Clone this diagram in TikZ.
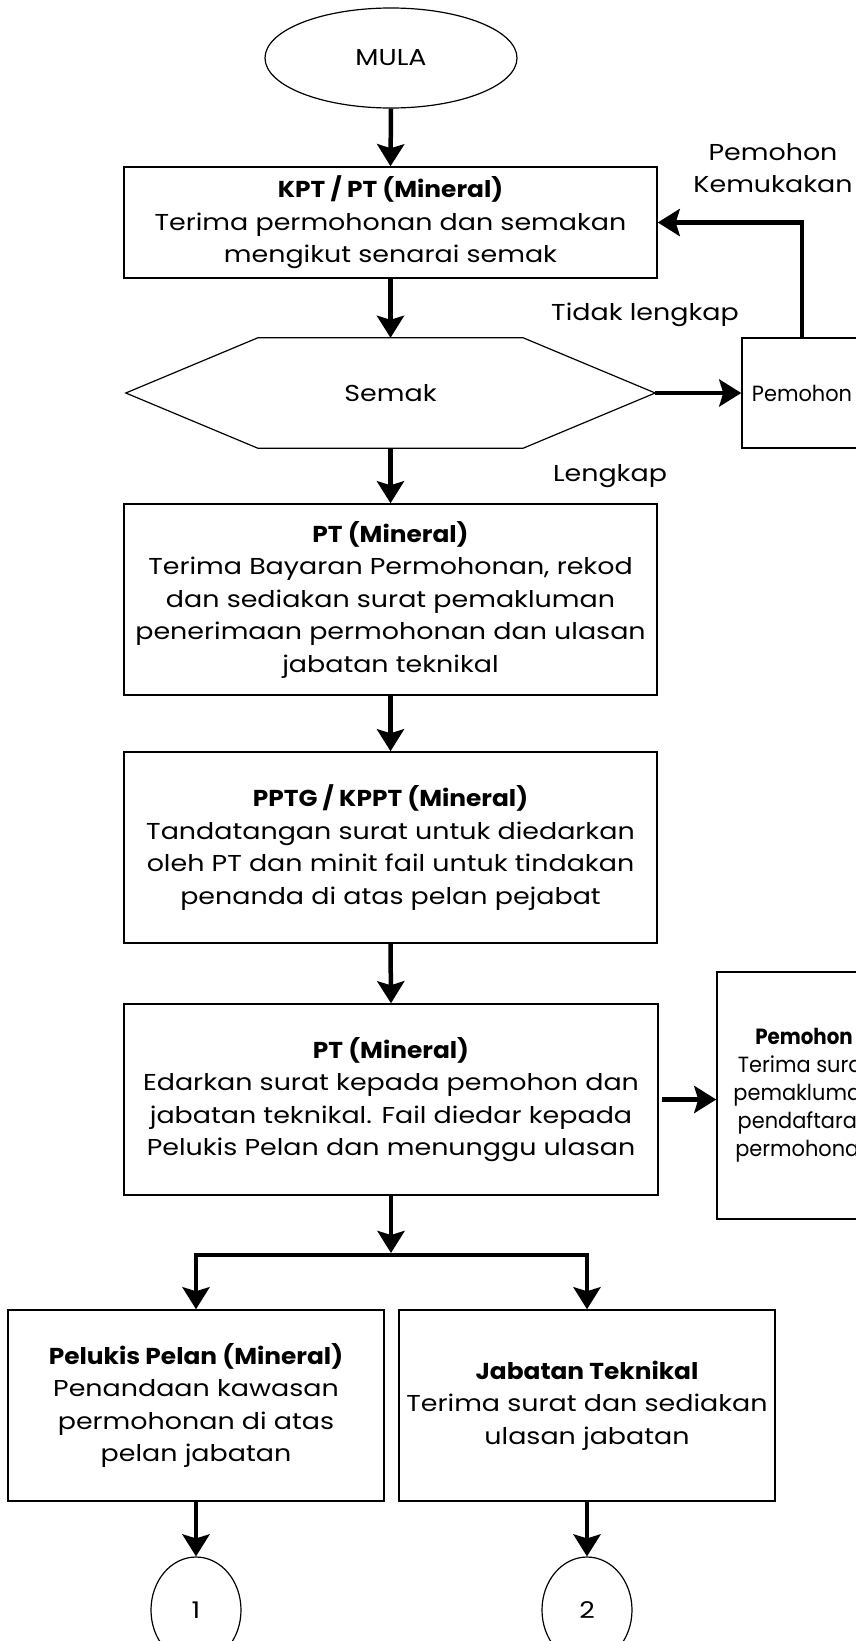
\documentclass[tikz,border=0pt]{standalone}
\usepackage{fontspec}
\setmainfont{Poppins}[FakeStretch=1.17, BoldFeatures={FakeStretch=1.08}]
\newfontfamily\condfam{Poppins}[FakeStretch=0.95, BoldFeatures={FakeStretch=0.9}]
\usetikzlibrary{arrows.meta,shapes.geometric,calc}
\newcommand\mainfs{\fontsize{23}{32.5}\selectfont}
\newcommand\condfs{\condfam\fontsize{22}{28}\selectfont}
\begin{document}
\begin{tikzpicture}[x=1pt,y=-1pt,
  box/.style={draw, line width=1.5pt, inner sep=0pt, align=center, font=\mainfs},
  term/.style={ellipse, draw, line width=1.2pt, inner sep=0pt, font=\mainfs},
  lbl/.style={inner sep=0pt, align=center, font=\mainfs},
  arr/.style={line width=4.5pt, -{Stealth[length=22pt,width=27pt,inset=4pt]}},
  plain/.style={line width=4.5pt}
]
\useasboundingbox (0,0) rectangle (856,1641);

\node[term, minimum width=252pt, minimum height=100pt] (mula) at (391,58) {MULA};

\node[box, minimum width=533pt, minimum height=111pt] (b1) at (390.5,222.5)
  {\textbf{KPT / PT (Mineral)}\\Terima permohonan dan semakan\\mengikut senarai semak};

\node[lbl, minimum width=529pt, minimum height=110pt] (semak) at (390.5,393) {Semak};
\draw[line width=1.2pt] (semak.west) -- ($(semak.north west)+(132,0)$) -- ($(semak.north east)+(-132,0)$)
  -- (semak.east) -- ($(semak.south east)+(-132,0)$) -- ($(semak.south west)+(132,0)$) -- cycle;

\node[box, font=\condfs, minimum width=120pt, minimum height=110pt] (p1) at (802,393) {Pemohon};

\node[lbl] (kemuk) at (773,168) {Pemohon\\Kemukakan};
\node[lbl] (tidak) at (645,315) {Tidak lengkap};
\node[lbl] (lengkap) at (610,476) {Lengkap};

\node[box, minimum width=533pt, minimum height=191pt] (b2) at (390.5,599.5)
  {\textbf{PT (Mineral)}\\Terima Bayaran Permohonan, rekod\\dan sediakan surat pemakluman\\penerimaan permohonan dan ulasan\\jabatan teknikal};

\node[box, minimum width=533pt, minimum height=191pt] (b3) at (390.5,847.5)
  {\textbf{PPTG / KPPT (Mineral)}\\Tandatangan surat untuk diedarkan\\oleh PT dan minit fail untuk tindakan\\penanda di atas pelan pejabat};

\node[box, minimum width=534pt, minimum height=191pt] (b4) at (391,1099.5)
  {\textbf{PT (Mineral)}\\Edarkan surat kepada pemohon dan\\jabatan teknikal. Fail diedar kepada\\Pelukis Pelan dan menunggu ulasan};

\node[box, font=\condfs, minimum width=174pt, minimum height=247pt] (p2) at (804,1095.5)
  {\textbf{Pemohon}\\Terima surat\\pemakluman\\pendaftaran\\permohonan};

\node[box, minimum width=376pt, minimum height=191pt] (b5) at (196,1405.5)
  {\textbf{Pelukis Pelan (Mineral)}\\Penandaan kawasan\\permohonan di atas\\pelan jabatan};

\node[box, minimum width=376pt, minimum height=191pt] (b6) at (587,1405.5)
  {\textbf{Jabatan Teknikal}\\Terima surat dan sediakan\\ulasan jabatan};

\node[term, minimum width=90pt, minimum height=106pt] (c1) at (196,1610) {1};
\node[term, minimum width=90pt, minimum height=106pt] (c2) at (587,1610) {2};

\coordinate (j) at (391,1255);

\draw[arr] (mula.south) -- (b1.north);
\draw[arr] (b1.south) -- (semak.north);
\draw[arr] (semak.east) -- (p1.west);
\draw[arr] (p1.north) |- (b1.east);
\draw[arr] (semak.south) -- (b2.north);
\draw[arr] (b2.south) -- (b3.north);
\draw[arr] (b3.south) -- (b4.north);
\draw[arr] ([xshift=3pt]b4.east) -- (b4.east -| p2.west);
\draw[arr, shorten >=2pt] (b4.south) -- (j);
\draw[arr] (j) -| (b5.north);
\draw[arr] (j) -| (b6.north);
\draw[arr] (b5.south) -- (c1.north);
\draw[arr] (b6.south) -- (c2.north);
\end{tikzpicture}
\end{document}
